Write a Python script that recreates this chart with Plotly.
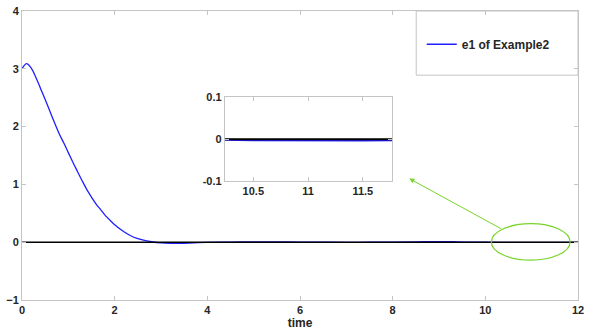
import plotly.graph_objects as go

# data
time = [0, 0.1, 0.2, 0.3, 0.4, 0.5, 0.6, 0.7, 0.8, 0.9, 1.0, 1.1, 1.2, 1.3, 1.4, 1.5,
        1.6, 1.7, 1.8, 1.9, 2.0, 2.2, 2.4, 2.6, 2.8, 3.0, 3.2, 3.4, 3.6, 3.8, 4.0,
        4.5, 5.0, 5.5, 6.0, 6.5, 7.0, 7.5, 8.0, 8.5, 9.0, 9.3, 9.6, 10.0, 10.5,
        11.0, 11.5, 12.0]
e1 = [3.00, 3.09, 3.01, 2.85, 2.66, 2.47, 2.27, 2.07, 1.88, 1.72, 1.55, 1.38, 1.22,
      1.06, 0.91, 0.78, 0.66, 0.56, 0.46, 0.38, 0.30, 0.18, 0.09, 0.04, 0.008,
      -0.012, -0.02, -0.02, -0.015, -0.008, -0.003, 0.002, 0.005, 0.004, 0.002,
      0.000, -0.002, -0.001, 0.002, 0.006, 0.010, 0.008, 0.003, 0.000, -0.002,
      -0.003, -0.003, -0.002]
zero_t = [0, 12]
zero_v = [0, 0]
x_ticks = [0, 2, 4, 6, 8, 10, 12]
y_ticks = [-1, 0, 1, 2, 3, 4]
inset_xticks = [10.5, 11, 11.5]
inset_yticks = [-0.1, 0, 0.1]
inset_ylabels = ["-0.1", "0", "0.1"]

BLUE = "#1f1fff"
GREEN = "#77d42a"
AX = "#c4c4c4"
TXT = "#262626"
font = dict(family="Liberation Sans, Arial", size=11, color=TXT, weight="bold")
font12 = dict(family="Liberation Sans, Arial", size=12, color=TXT, weight="bold")

fig = go.Figure()
fig.add_trace(go.Scatter(x=time, y=e1, mode="lines", name="e1 of Example2",
                         line=dict(color=BLUE, width=1.3, shape="spline")))
fig.add_trace(go.Scatter(x=zero_t, y=zero_v, mode="lines", showlegend=False,
                         line=dict(color="black", width=1.5)))
# inset
fig.add_trace(go.Scatter(x=time, y=e1, mode="lines", showlegend=False,
                         xaxis="x2", yaxis="y2", line=dict(color=BLUE, width=2)))
fig.add_trace(go.Scatter(x=zero_t, y=zero_v, mode="lines", showlegend=False,
                         xaxis="x2", yaxis="y2", line=dict(color="black", width=2)))

axis_common = dict(showline=True, linecolor=AX, linewidth=1, mirror="ticks",
                   ticks="inside", ticklen=4, tickcolor=AX, showgrid=False,
                   zeroline=False, tickfont=font, automargin=False)

fig.update_layout(
    width=594, height=332,
    margin=dict(l=22, r=15.5, t=10.7, b=32),
    plot_bgcolor="white", paper_bgcolor="white",
    font=font,
    xaxis=dict(range=[0, 12], tickvals=x_ticks, domain=[0, 1],
               title=dict(text="time", font=font12, standoff=0), **axis_common),
    yaxis=dict(range=[-1, 4], tickvals=y_ticks, domain=[0, 1], **axis_common),
    xaxis2=dict(range=[10.24, 11.77], tickvals=inset_xticks, domain=[0.3648, 0.6661],
                anchor="y2", **axis_common),
    yaxis2=dict(range=[-0.1, 0.1], tickvals=inset_yticks, ticktext=inset_ylabels,
                domain=[0.4113, 0.7007], anchor="x2", **axis_common),
    showlegend=True,
    legend=dict(x=0.719, y=0.885, xanchor="left", yanchor="middle",
                bgcolor="rgba(0,0,0,0)", borderwidth=0, font=font12),
    shapes=[
        dict(type="rect", xref="paper", yref="paper", x0=0.709, x1=1.0,
             y0=0.778, y1=1.0, line=dict(color=AX, width=1), fillcolor="white",
             layer="below"),
        dict(type="circle", xref="x", yref="y", x0=10.13, x1=11.83, y0=-0.31,
             y1=0.32, line=dict(color=GREEN, width=1.2)),
    ],
    annotations=[
        dict(x=8.36, y=1.10, ax=10.37, ay=0.22, xref="x", yref="y", axref="x",
             ayref="y", showarrow=True, arrowhead=2, arrowsize=1, arrowwidth=1,
             arrowcolor=GREEN, text=""),
    ],
)
fig.write_html("out.html", config={"displayModeBar": False},
               post_script="document.body.style.margin='0';")
